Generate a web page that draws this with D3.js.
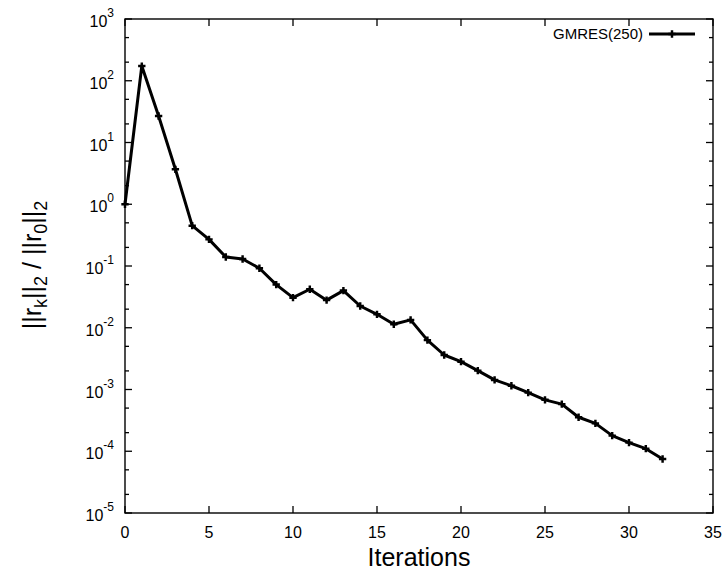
<!DOCTYPE html>
<html>
<head>
<meta charset="utf-8">
<script src="https://cdn.jsdelivr.net/npm/d3@7"></script>
<style>
  body { margin: 0; background: #fff; }
  text { font-family: "Liberation Sans", Arial, sans-serif; fill: #000; }
</style>
</head>
<body>
<div id="chart"></div>
<script>
// residual history
var iterations = [0, 1, 2, 3, 4, 5, 6, 7, 8, 9, 10, 11, 12, 13, 14, 15, 16,
    17, 18, 19, 20, 21, 22, 23, 24, 25, 26, 27, 28, 29, 30, 31, 32];
var residuals = [1, 173, 26.9, 3.68, 0.45, 0.27, 0.14, 0.13, 0.092, 0.050,
    0.0307, 0.042, 0.028, 0.040, 0.0225, 0.0165, 0.0114, 0.0134, 0.0063,
    0.00362, 0.00282, 0.00202, 0.00143, 0.00115, 0.00089, 0.00068, 0.00058,
    0.000355, 0.000283, 0.000179, 0.000138, 0.000110, 0.0000748];
var xTicks = [0, 5, 10, 15, 20, 25, 30, 35];
var yExponents = [-5, -4, -3, -2, -1, 0, 1, 2, 3];
var seriesName = "GMRES(250)";

var margin = { top: 19, right: 15, bottom: 64, left: 125 },
    width = 728 - margin.left - margin.right,
    height = 577 - margin.top - margin.bottom;

var svg = d3.select("#chart").append("svg")
    .attr("width", 728)
    .attr("height", 577);

var g = svg.append("g")
    .attr("transform", "translate(" + margin.left + "," + margin.top + ")");

var x = d3.scaleLinear().domain([0, 35]).range([0, width]);
var y = d3.scaleLog().domain([1e-5, 1e3]).range([height, 0]);

// minor ticks at 2 and 5 of every decade
var minor = [];
yExponents.slice(0, -1).forEach(function (e) {
    minor.push(2 * Math.pow(10, e));
    minor.push(5 * Math.pow(10, e));
});
var major = yExponents.map(function (e) { return Math.pow(10, e); });

// tick marks, inward on all four sides
var ticks = g.append("g").attr("stroke", "#000").attr("stroke-width", 1.3);
xTicks.forEach(function (t) {
    ticks.append("line").attr("x1", x(t)).attr("x2", x(t)).attr("y1", height).attr("y2", height - 7);
    ticks.append("line").attr("x1", x(t)).attr("x2", x(t)).attr("y1", 0).attr("y2", 7);
});
major.forEach(function (v) {
    ticks.append("line").attr("x1", 0).attr("x2", 7).attr("y1", y(v)).attr("y2", y(v));
    ticks.append("line").attr("x1", width).attr("x2", width - 7).attr("y1", y(v)).attr("y2", y(v));
});
minor.forEach(function (v) {
    ticks.append("line").attr("x1", 0).attr("x2", 4).attr("y1", y(v)).attr("y2", y(v));
    ticks.append("line").attr("x1", width).attr("x2", width - 4).attr("y1", y(v)).attr("y2", y(v));
});

// frame
g.append("rect")
    .attr("width", width).attr("height", height)
    .attr("fill", "none").attr("stroke", "#000").attr("stroke-width", 1.4);

// x tick labels
g.selectAll(".xlab").data(xTicks).enter().append("text")
    .attr("class", "xlab")
    .attr("x", function (d) { return x(d); })
    .attr("y", height + 25)
    .attr("text-anchor", "middle")
    .attr("font-size", "16px")
    .text(function (d) { return d; });

// y tick labels: 10 with superscript exponent
var ylab = g.selectAll(".ylab").data(yExponents).enter().append("text")
    .attr("class", "ylab")
    .attr("x", -11)
    .attr("y", function (d) { return y(Math.pow(10, d)) + 8; })
    .attr("text-anchor", "end")
    .attr("font-size", "16px");
ylab.append("tspan").text("10");
ylab.append("tspan")
    .attr("dy", -10)
    .attr("font-size", "12px")
    .text(function (d) { return d < 0 ? "-" + (-d) : d; });

// axis titles
svg.append("text")
    .attr("x", margin.left + x(17.5))
    .attr("y", 566)
    .attr("text-anchor", "middle")
    .attr("font-size", "25px")
    .text("Iterations");

var yt = svg.append("text")
    .attr("transform", "translate(41,265) rotate(-90)")
    .attr("text-anchor", "middle")
    .attr("font-size", "25px");
yt.append("tspan").text("||r");
yt.append("tspan").attr("dy", 6).attr("font-size", "18px").text("k");
yt.append("tspan").attr("dy", -6).text("||");
yt.append("tspan").attr("dy", 6).attr("font-size", "18px").text("2");
yt.append("tspan").attr("dy", -6).text(" / ||r");
yt.append("tspan").attr("dy", 6).attr("font-size", "18px").text("0");
yt.append("tspan").attr("dy", -6).text("||");
yt.append("tspan").attr("dy", 6).attr("font-size", "18px").text("2");

// series
var data = iterations.map(function (it, i) { return { x: it, y: residuals[i] }; });

var line = d3.line()
    .x(function (d) { return x(d.x); })
    .y(function (d) { return y(d.y); });

g.append("path")
    .datum(data)
    .attr("fill", "none")
    .attr("stroke", "#000")
    .attr("stroke-width", 3)
    .attr("stroke-linejoin", "round")
    .attr("d", line);

var plus = d3.symbol().type(d3.symbolCross).size(30);
g.selectAll(".pt").data(data).enter().append("path")
    .attr("class", "pt")
    .attr("transform", function (d) { return "translate(" + x(d.x) + "," + y(d.y) + ")"; })
    .attr("d", plus)
    .attr("fill", "#000");

// legend
var lg = g.append("g").attr("transform", "translate(" + (width - 64) + ",15)");
lg.append("text")
    .attr("x", -6).attr("y", 5)
    .attr("text-anchor", "end")
    .attr("font-size", "15px")
    .text(seriesName);
lg.append("line")
    .attr("x1", 0).attr("x2", 46)
    .attr("stroke", "#000").attr("stroke-width", 3);
lg.append("path")
    .attr("transform", "translate(23,0)")
    .attr("d", plus)
    .attr("fill", "#000");
</script>
</body>
</html>
